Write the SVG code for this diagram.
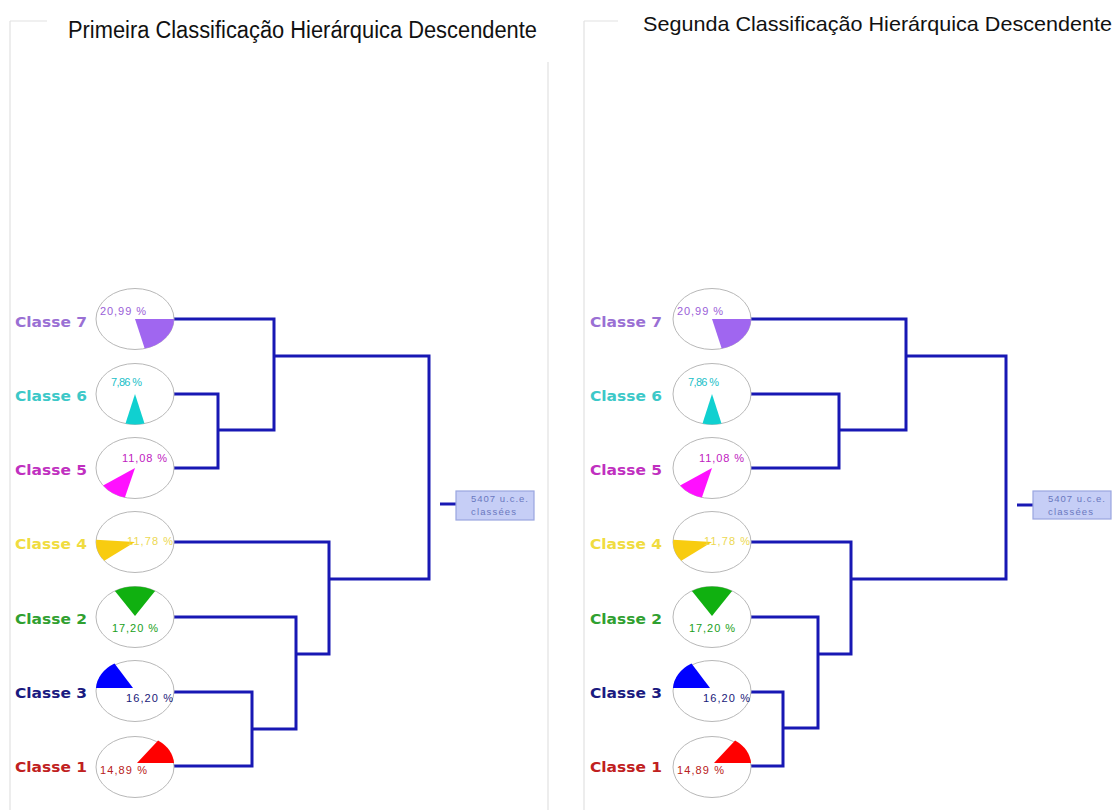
<svg xmlns="http://www.w3.org/2000/svg" width="1117" height="810" viewBox="0 0 1117 810">
<style>
.frame{stroke:#e2e2e2;stroke-width:1.2;fill:none}
.title{font-family:"Liberation Sans",Arial,sans-serif;font-size:23px;fill:#111}
.pie{fill:#fff;stroke:#b8b8b8;stroke-width:1}
.cl{font-family:"DejaVu Sans","Liberation Sans",sans-serif;font-size:13.5px;font-weight:bold}
.pc{font-family:"Liberation Sans",Arial,sans-serif;font-size:11px}
.link{fill:none;stroke:#1818b4;stroke-width:3;stroke-linejoin:miter}
.box{fill:#c6cef6;stroke:#99a6e0;stroke-width:1.2}
.bt{font-family:"Liberation Sans",Arial,sans-serif;font-size:9.5px;fill:#6a78c0}
</style>
<rect width="1117" height="810" fill="#fff"/>
<g id="frames">
<path class="frame" d="M10,21 H47 M10,21 V810 M548,62 V810"/>
<path class="frame" d="M584,21 H618 M584,21 V810"/>
</g>
<g id="titles">
<text class="title" x="68" y="38" textLength="469" lengthAdjust="spacingAndGlyphs">Primeira Classificação Hierárquica Descendente</text>
<text class="title" x="643" y="31" style="font-size:21px" textLength="469" lengthAdjust="spacingAndGlyphs">Segunda Classificação Hierárquica Descendente</text>
</g>
<g id="connectors">
<path class="link" d="M174,319 H274 V430 H218"/>
<path class="link" d="M174,394 H218 V468 H174"/>
<path class="link" d="M274,356 H429 V579 H329"/>
<path class="link" d="M174,542 H329 V654 H296"/>
<path class="link" d="M174,617 H296 V729 H252"/>
<path class="link" d="M174,692 H252 V766 H174"/>
<path class="link" d="M440,504 H456"/>
<path class="link" d="M751,319 H906 V430 H839"/>
<path class="link" d="M751,394 H839 V468 H751"/>
<path class="link" d="M906,356 H1006 V579 H851"/>
<path class="link" d="M751,542 H851 V654 H818"/>
<path class="link" d="M751,617 H818 V728 H783"/>
<path class="link" d="M751,692 H783 V766 H751"/>
<path class="link" d="M1017,505 H1033"/>
</g>
<g id="left-classe7">
<text class="cl" x="15" y="327" fill="#9a70d4" textLength="72" lengthAdjust="spacingAndGlyphs">Classe 7</text>
<ellipse class="pie" cx="135" cy="319" rx="39" ry="30.5"/>
<path d="M135,319 L174,319 A39,30.5 0 0 1 144.7,348.5 Z" fill="#a066f0"/>
<text class="pc" x="100" y="315" fill="#9a60d8" textLength="46" lengthAdjust="spacing">20,99 %</text>
</g>
<g id="left-classe6">
<text class="cl" x="15" y="401" fill="#3cc8c8" textLength="72" lengthAdjust="spacingAndGlyphs">Classe 6</text>
<ellipse class="pie" cx="135" cy="394" rx="39" ry="30.5"/>
<path d="M135,394 L144.5,423.6 A39,30.5 0 0 1 125.5,423.6 Z" fill="#10d0d0"/>
<text class="pc" x="111" y="386" fill="#20c0c8" textLength="31" lengthAdjust="spacing">7,86 %</text>
</g>
<g id="left-classe5">
<text class="cl" x="15" y="475" fill="#c030c0" textLength="72" lengthAdjust="spacingAndGlyphs">Classe 5</text>
<ellipse class="pie" cx="135" cy="468" rx="39" ry="30.5"/>
<path d="M135,468 L124.9,497.5 A39,30.5 0 0 1 103.1,485.5 Z" fill="#ff10ff"/>
<text class="pc" x="122" y="462" fill="#c020c0" textLength="45" lengthAdjust="spacing">11,08 %</text>
</g>
<g id="left-classe4">
<text class="cl" x="15" y="549" fill="#f0dc40" textLength="72" lengthAdjust="spacingAndGlyphs">Classe 4</text>
<ellipse class="pie" cx="135" cy="542" rx="39" ry="30.5"/>
<path d="M135,542 L104.3,560.8 A39,30.5 0 0 1 96.1,539.7 Z" fill="#f8cc10"/>
<text class="pc" x="127" y="545" fill="#ecd850" textLength="46" lengthAdjust="spacing">11,78 %</text>
</g>
<g id="left-classe2">
<text class="cl" x="15" y="624" fill="#30a030" textLength="72" lengthAdjust="spacingAndGlyphs">Classe 2</text>
<ellipse class="pie" cx="135" cy="617" rx="39" ry="30.5"/>
<path d="M135,616 L114.9,590.9 A39,30.5 0 0 1 155.1,590.9 Z" fill="#10b010"/>
<text class="pc" x="112" y="632" fill="#20a020" textLength="46" lengthAdjust="spacing">17,20 %</text>
</g>
<g id="left-classe3">
<text class="cl" x="15" y="698" fill="#1a1a80" textLength="72" lengthAdjust="spacingAndGlyphs">Classe 3</text>
<ellipse class="pie" cx="135" cy="691" rx="39" ry="30.5"/>
<path d="M133,688 L96,688 A39,30.5 0 0 1 114.5,663.5 Z" fill="#0000ff"/>
<text class="pc" x="126" y="702" fill="#181878" textLength="47" lengthAdjust="spacing">16,20 %</text>
</g>
<g id="left-classe1">
<text class="cl" x="15" y="772" fill="#c02020" textLength="72" lengthAdjust="spacingAndGlyphs">Classe 1</text>
<ellipse class="pie" cx="135" cy="767" rx="39" ry="30.5"/>
<path d="M137,763 L158.1,740.5 A39,30.5 0 0 1 174,763 Z" fill="#ff0000"/>
<text class="pc" x="100" y="774" fill="#b82020" textLength="47" lengthAdjust="spacing">14,89 %</text>
</g>
<g id="left-total">
<rect class="box" x="456" y="491" width="78" height="29"/>
<text class="bt" x="471" y="502" textLength="57" lengthAdjust="spacing">5407 u.c.e.</text>
<text class="bt" x="471" y="515" textLength="45" lengthAdjust="spacing">classées</text>
</g>
<g id="right-classe7">
<text class="cl" x="590" y="327" fill="#9a70d4" textLength="72" lengthAdjust="spacingAndGlyphs">Classe 7</text>
<ellipse class="pie" cx="712" cy="319" rx="39" ry="30.5"/>
<path d="M712,319 L751,319 A39,30.5 0 0 1 721.7,348.5 Z" fill="#a066f0"/>
<text class="pc" x="677" y="315" fill="#9a60d8" textLength="46" lengthAdjust="spacing">20,99 %</text>
</g>
<g id="right-classe6">
<text class="cl" x="590" y="401" fill="#3cc8c8" textLength="72" lengthAdjust="spacingAndGlyphs">Classe 6</text>
<ellipse class="pie" cx="712" cy="394" rx="39" ry="30.5"/>
<path d="M712,394 L721.5,423.6 A39,30.5 0 0 1 702.5,423.6 Z" fill="#10d0d0"/>
<text class="pc" x="688" y="386" fill="#20c0c8" textLength="31" lengthAdjust="spacing">7,86 %</text>
</g>
<g id="right-classe5">
<text class="cl" x="590" y="475" fill="#c030c0" textLength="72" lengthAdjust="spacingAndGlyphs">Classe 5</text>
<ellipse class="pie" cx="712" cy="468" rx="39" ry="30.5"/>
<path d="M712,468 L701.9,497.5 A39,30.5 0 0 1 680.1,485.5 Z" fill="#ff10ff"/>
<text class="pc" x="699" y="462" fill="#c020c0" textLength="45" lengthAdjust="spacing">11,08 %</text>
</g>
<g id="right-classe4">
<text class="cl" x="590" y="549" fill="#f0dc40" textLength="72" lengthAdjust="spacingAndGlyphs">Classe 4</text>
<ellipse class="pie" cx="712" cy="542" rx="39" ry="30.5"/>
<path d="M712,542 L681.3,560.8 A39,30.5 0 0 1 673.1,539.7 Z" fill="#f8cc10"/>
<text class="pc" x="704" y="545" fill="#ecd850" textLength="46" lengthAdjust="spacing">11,78 %</text>
</g>
<g id="right-classe2">
<text class="cl" x="590" y="624" fill="#30a030" textLength="72" lengthAdjust="spacingAndGlyphs">Classe 2</text>
<ellipse class="pie" cx="712" cy="617" rx="39" ry="30.5"/>
<path d="M712,616 L691.9,590.9 A39,30.5 0 0 1 732.1,590.9 Z" fill="#10b010"/>
<text class="pc" x="689" y="632" fill="#20a020" textLength="46" lengthAdjust="spacing">17,20 %</text>
</g>
<g id="right-classe3">
<text class="cl" x="590" y="698" fill="#1a1a80" textLength="72" lengthAdjust="spacingAndGlyphs">Classe 3</text>
<ellipse class="pie" cx="712" cy="691" rx="39" ry="30.5"/>
<path d="M710,688 L673,688 A39,30.5 0 0 1 691.5,663.5 Z" fill="#0000ff"/>
<text class="pc" x="703" y="702" fill="#181878" textLength="47" lengthAdjust="spacing">16,20 %</text>
</g>
<g id="right-classe1">
<text class="cl" x="590" y="772" fill="#c02020" textLength="72" lengthAdjust="spacingAndGlyphs">Classe 1</text>
<ellipse class="pie" cx="712" cy="767" rx="39" ry="30.5"/>
<path d="M714,763 L735.1,740.5 A39,30.5 0 0 1 751,763 Z" fill="#ff0000"/>
<text class="pc" x="677" y="774" fill="#b82020" textLength="47" lengthAdjust="spacing">14,89 %</text>
</g>
<g id="right-total">
<rect class="box" x="1033" y="491" width="78" height="28"/>
<text class="bt" x="1048" y="502" textLength="57" lengthAdjust="spacing">5407 u.c.e.</text>
<text class="bt" x="1048" y="515" textLength="45" lengthAdjust="spacing">classées</text>
</g>
</svg>
